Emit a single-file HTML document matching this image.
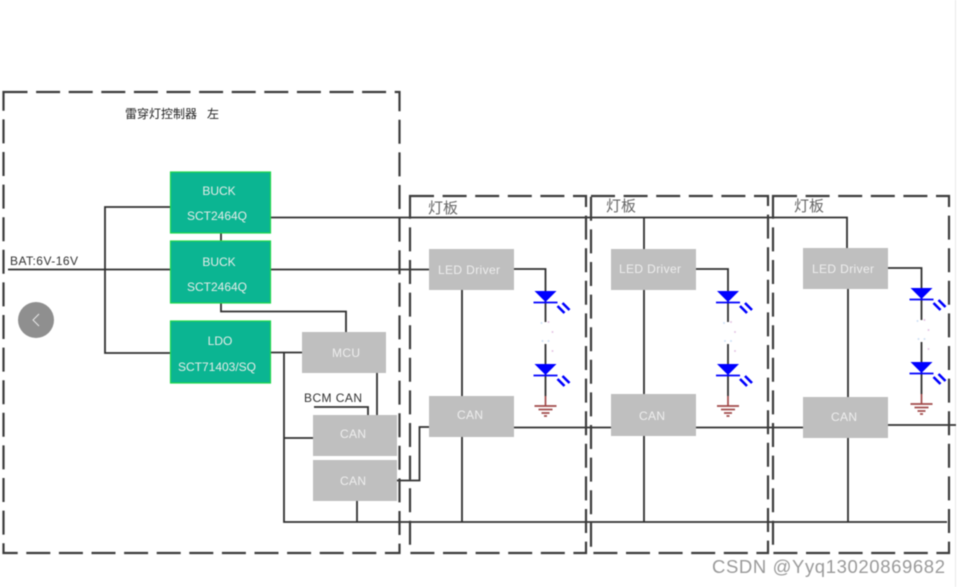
<!DOCTYPE html>
<html><head><meta charset="utf-8"><style>
html,body{margin:0;padding:0;background:#fff;width:959px;height:587px;overflow:hidden}
svg{display:block;filter:blur(.5px)}
text{font-family:"Liberation Sans","Noto Sans CJK SC",sans-serif}
.w{fill:#e6ece9;font-size:12px;text-anchor:middle}
.g{fill:#eeeeee;font-size:12px;text-anchor:middle}
.l{stroke:#303030;stroke-width:1.8;fill:none}
.d{stroke:#3c3c3c;stroke-width:2.2;fill:none;stroke-dasharray:24 8.6}
.gb{fill:#0bb592;stroke:#22d84c;stroke-width:1.2}
.bb{fill:#bfbfbf}
</style></head><body>
<svg width="959" height="587" viewBox="0 0 959 587" xmlns="http://www.w3.org/2000/svg">
<defs>
<g id="led">
<path d="M-11 0H11L0 11Z" fill="#0000ff"/>
<path d="M-12 11.5H12" stroke="#0000ff" stroke-width="1.8"/>
<path d="M12 15l7 7M17 12l7 7" stroke="#0000ff" stroke-width="2.6"/>
</g>
<g id="gnd" fill="none" stroke="#a04848" stroke-width="1.7">
<path d="M0 -10V0"/><path d="M-11 0H11"/><path d="M-7 3.5H7"/><path d="M-4 7H4"/><path d="M-1.5 10H1.5"/>
</g>
<g id="dots" fill="#e4c6e4">
<circle cx="-4" cy="2" r="1" fill="#cfe0f5"/><circle cx="3" cy="1" r="1"/><circle cx="7" cy="11" r="1"/><circle cx="-3" cy="20" r="1" fill="#cfe0f5"/><circle cx="3" cy="20" r="1" fill="#cfe0f5"/><circle cx="7" cy="30" r="1"/>
</g>
</defs>
<rect width="959" height="587" fill="#fff"/>
<path d="M955.5 0V587" stroke="#e8e8e8" stroke-width="1"/>

<!-- connectors -->
<g class="l">
<path d="M170 207H105V353H170"/>
<path d="M8 269.5H170"/>
<path d="M270 269.5H429"/>
<path d="M270 217.5H847V248"/>
<path d="M644 218V249"/>
<path d="M221 233V241"/>
<path d="M221 303V311.5H346V332"/>
<path d="M270 352.5H302"/>
<path d="M284 353V522H947"/>
<path d="M284 438H313"/>
<path d="M314 407H368V415"/>
<path d="M377 373V415"/>
<path d="M397 480.500H419.500V427H429"/>
<path d="M357 501V522"/>
<path d="M514 427.500H611"/>
<path d="M696 427.500H803"/>
<path d="M888 425H956"/>
<path d="M462 290V396M462 437V522"/>
<path d="M644 290V394M644 436V522"/>
<path d="M848 289V397M848 438V522"/>
<path d="M514 269H545.500V322M545.500 344V396"/>
<path d="M696 269H728V322M728 344V396"/>
<path d="M888 268H921.500V320M921.500 342V394"/>
</g>

<!-- dashed frames -->
<rect class="d" x="3.500" y="92" width="396" height="461"/>
<rect class="d" x="410" y="196" width="176" height="357"/>
<rect class="d" x="591" y="196" width="177" height="357"/>
<rect class="d" x="773" y="196" width="176" height="357"/>

<!-- green blocks -->
<rect class="gb" x="170.500" y="172" width="100" height="61"/>
<rect class="gb" x="170.500" y="241" width="100" height="62"/>
<rect class="gb" x="170.500" y="321" width="100" height="62"/>
<text class="w" x="219" y="195">BUCK</text><text class="w" x="217" y="220">SCT2464Q</text>
<text class="w" x="219" y="266">BUCK</text><text class="w" x="217" y="291">SCT2464Q</text>
<text class="w" x="220" y="345">LDO</text><text class="w" x="217" y="371">SCT71403/SQ</text>

<!-- gray blocks -->
<rect class="bb" x="302" y="332" width="84" height="41"/>
<rect class="bb" x="313" y="415" width="84" height="41"/>
<rect class="bb" x="313" y="460" width="84" height="41"/>
<rect class="bb" x="429" y="249" width="85" height="41"/>
<rect class="bb" x="429" y="396" width="85" height="41"/>
<rect class="bb" x="611" y="249" width="85" height="41"/>
<rect class="bb" x="611" y="394" width="85" height="42"/>
<rect class="bb" x="803" y="248" width="85" height="41"/>
<rect class="bb" x="803" y="397" width="85" height="41"/>
<text class="g" x="346" y="357" textLength="28">MCU</text>
<text class="g" x="353" y="438" textLength="26">CAN</text>
<text class="g" x="353" y="485" textLength="26">CAN</text>
<text class="g" x="469" y="274" textLength="62">LED Driver</text>
<text class="g" x="470" y="419" textLength="26">CAN</text>
<text class="g" x="650" y="273" textLength="62">LED Driver</text>
<text class="g" x="652" y="420" textLength="26">CAN</text>
<text class="g" x="843" y="273" textLength="62">LED Driver</text>
<text class="g" x="844" y="421" textLength="26">CAN</text>

<!-- LEDs -->
<use href="#led" x="545.500" y="291"/><use href="#dots" x="545.500" y="321"/><use href="#led" x="545.500" y="364"/><use href="#gnd" x="545.500" y="406"/>
<use href="#led" x="728" y="291"/><use href="#dots" x="728" y="321"/><use href="#led" x="728" y="364"/><use href="#gnd" x="728" y="406"/>
<use href="#led" x="921.500" y="288"/><use href="#dots" x="921.500" y="319"/><use href="#led" x="921.500" y="362"/><use href="#gnd" x="921.500" y="404"/>

<!-- labels -->
<text x="125" y="118" font-size="12" fill="#222">雷穿灯控制器</text>
<text x="207" y="118" font-size="12" fill="#222">左</text>
<text x="10" y="265" font-size="12" fill="#333" textLength="68">BAT:6V-16V</text>
<text x="304" y="402" font-size="12" fill="#333" textLength="58">BCM CAN</text>
<text x="428" y="213" font-size="15" fill="#666">灯板</text>
<text x="606" y="211" font-size="15" fill="#666">灯板</text>
<text x="794" y="211" font-size="15" fill="#666">灯板</text>

<!-- nav button -->
<circle cx="36" cy="320" r="18" fill="#8f8f8f"/>
<path d="M39 314L33 320L39 326" fill="none" stroke="#e8e8e8" stroke-width="1"/>

<!-- watermark -->
<text x="712" y="573" font-size="18.500" fill="#9a9a9a" textLength="233">CSDN @Yyq13020869682</text>
</svg>
</body></html>
